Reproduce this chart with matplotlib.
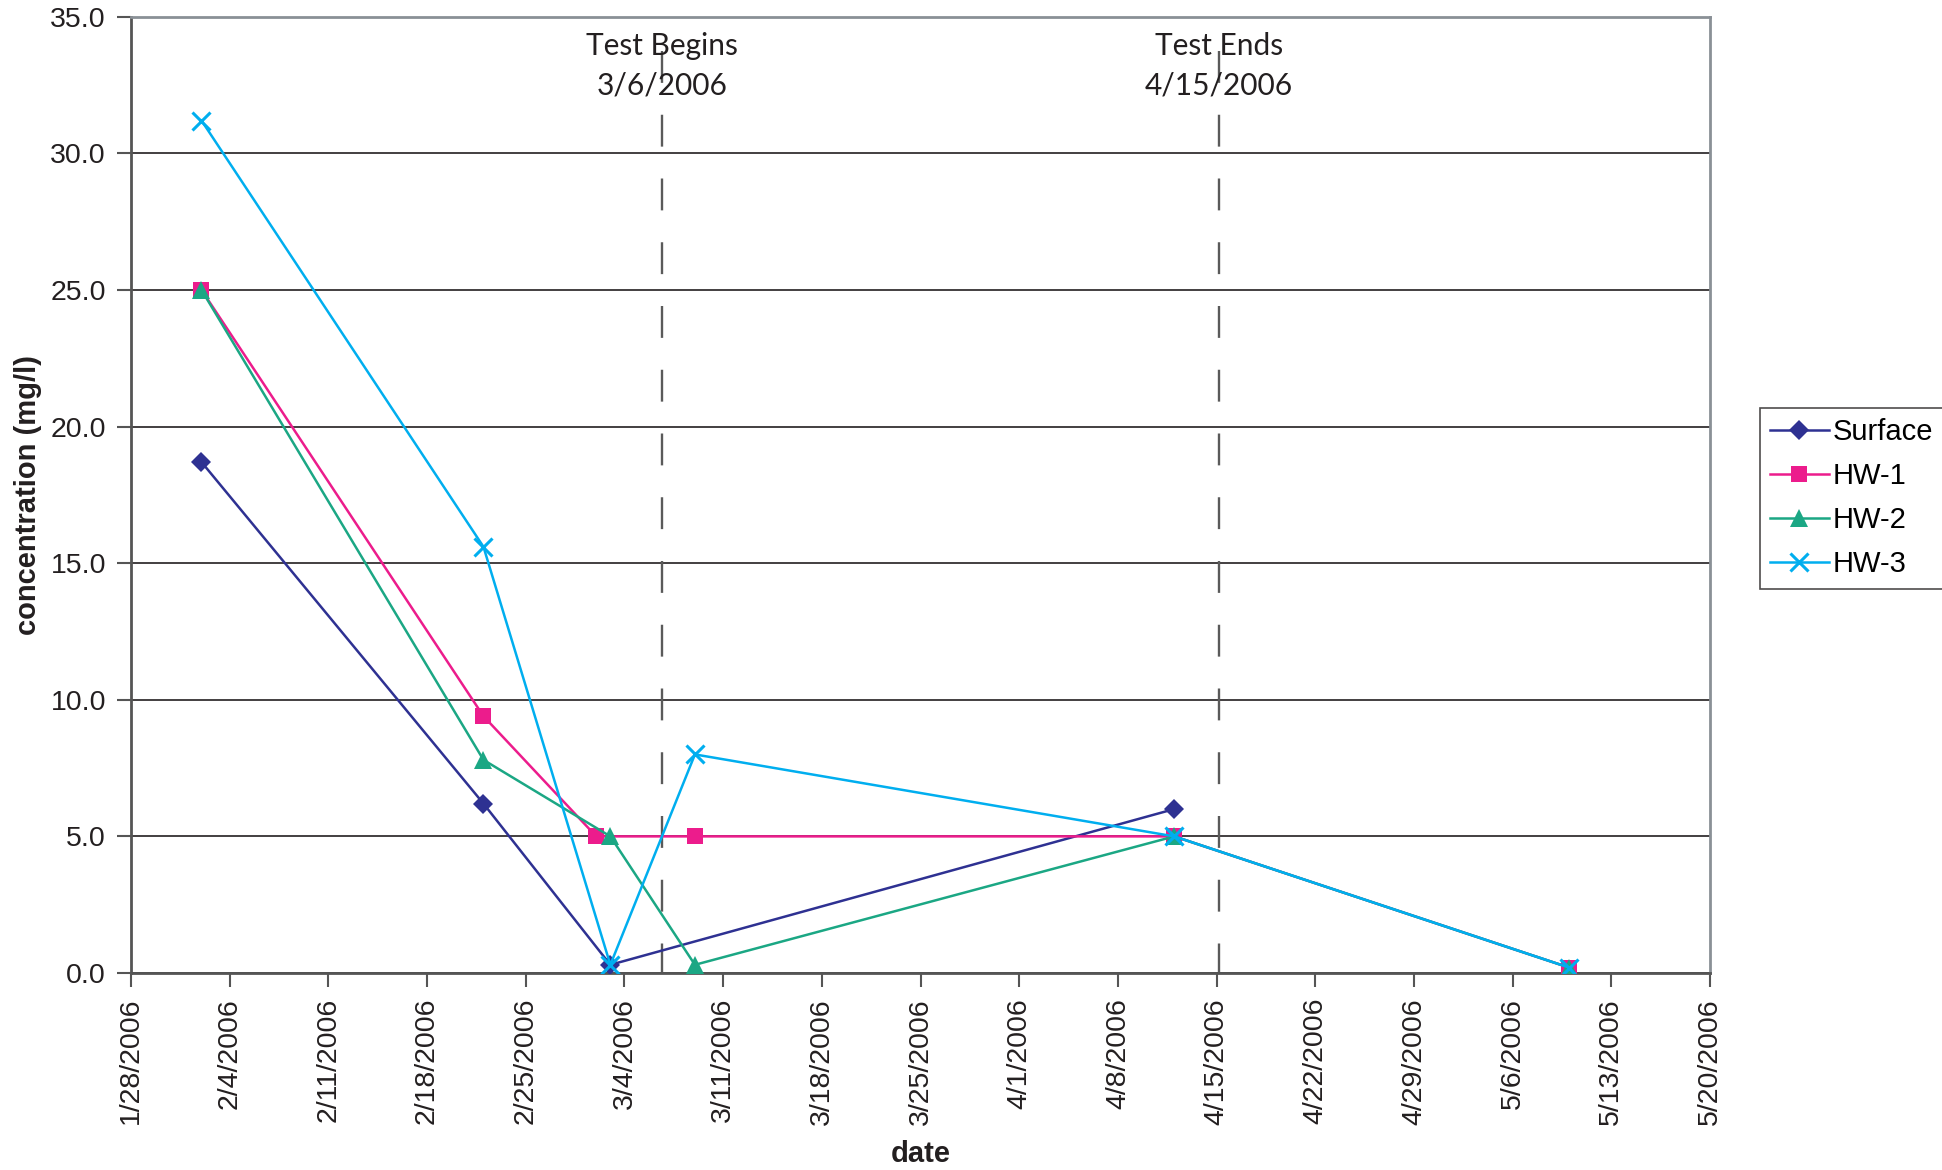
import matplotlib
matplotlib.use("Agg")
import matplotlib.pyplot as plt
from datetime import datetime, timedelta

plt.rcParams['font.family'] = ['Liberation Sans', 'DejaVu Sans']

# sampling dates and concentrations (mg/l)
surface_dates = ["2006-02-02", "2006-02-22", "2006-03-03", "2006-04-12"]
surface_vals = [18.7, 6.2, 0.3, 6.0]

hw1_dates = ["2006-02-02", "2006-02-22", "2006-03-02", "2006-03-09", "2006-04-12", "2006-05-10"]
hw1_vals = [25.0, 9.4, 5.0, 5.0, 5.0, 0.2]

hw2_dates = ["2006-02-02", "2006-02-22", "2006-03-03", "2006-03-09", "2006-04-12", "2006-05-10"]
hw2_vals = [25.0, 7.8, 5.0, 0.3, 5.0, 0.2]

hw3_dates = ["2006-02-02", "2006-02-22", "2006-03-03", "2006-03-09", "2006-04-12", "2006-05-10"]
hw3_vals = [31.2, 15.6, 0.3, 8.0, 5.0, 0.2]

# start / end of the test period
test_events = ["2006-03-06 16:00", "2006-04-15 04:00"]
test_titles = ["Test Begins", "Test Ends"]
test_dates = ["3/6/2006", "4/15/2006"]

y_ticks = [0, 5, 10, 15, 20, 25, 30, 35]


def to_dt(seq):
    return [datetime.strptime(s, "%Y-%m-%d") for s in seq]


fig = plt.figure(figsize=(19.42, 11.70), dpi=100)
ax = fig.add_axes([131 / 1942, 1 - 973 / 1170, (1710 - 131) / 1942, (973 - 16.7) / 1170])

series = [
    ("Surface", surface_dates, surface_vals, "#2E3192", "D", 10.5),
    ("HW-1", hw1_dates, hw1_vals, "#EC1C8C", "s", 11.5),
    ("HW-2", hw2_dates, hw2_vals, "#1BA784", "^", 13),
    ("HW-3", hw3_dates, hw3_vals, "#00AEEF", "x", 13),
]
for name, d, v, c, m, ms in series:
    kw = dict(markeredgewidth=2.2) if m == "x" else dict(markeredgewidth=0)
    ax.plot(to_dt(d), v, color=c, marker=m, markersize=ms, linewidth=1.8,
            label=name, zorder=3, **kw)

start = datetime(2006, 1, 28)
end = datetime(2006, 5, 20)
ax.set_xlim(start, end)
ax.set_ylim(0, 35)

xt = [start + timedelta(days=7 * i) for i in range(17)]
ax.set_xticks(xt)
ax.set_xticklabels([f"{t.month}/{t.day}/{t.year}" for t in xt], rotation=90)
ax.set_yticks(y_ticks)
ax.set_yticklabels([f"{v:.1f}" for v in y_ticks])

ax.tick_params(axis='both', labelsize=20.5, length=10, width=1.5, color='#555555',
               direction='out', pad=8, labelcolor='#231F20')
ax.grid(axis='y', color='#231F20', linewidth=1.2, zorder=1)
ax.set_axisbelow(True)
for side in ['left', 'bottom']:
    ax.spines[side].set_color('#555555')
    ax.spines[side].set_linewidth(2.0)
for side in ['top', 'right']:
    ax.spines[side].set_color('#8A9096')
    ax.spines[side].set_linewidth(2.0)

# test period markers
for ev, title, date_txt in zip(test_events, test_titles, test_dates):
    x = datetime.strptime(ev, "%Y-%m-%d %H:%M")
    ax.plot([x, x], [33.75, 0], color='#5A5A5A', linewidth=1.7,
            dashes=(13.5, 13.5), zorder=2)
    ax.text(x, 33.60, title, ha='center', va='baseline', fontsize=21.5,
            family='Lato', color='#231F20')
    ax.text(x, 32.17, date_txt, ha='center', va='baseline', fontsize=21.5,
            family='Lato', color='#231F20')

ax.set_ylabel("concentration (mg/l)", fontsize=21, fontweight='bold',
              color='#231F20', labelpad=6)
ax.set_xlabel("date", fontsize=21, fontweight='bold', color='#231F20', labelpad=11)

leg = fig.legend(loc='upper left', bbox_to_anchor=(1760 / 1942, 1 - 408 / 1170),
                 fontsize=21, frameon=True, fancybox=False, edgecolor='#231F20',
                 handlelength=2.0, handletextpad=0.15, labelspacing=0.55,
                 borderpad=0.35, borderaxespad=0)
leg.get_frame().set_linewidth(1.2)

fig.savefig("out.png", dpi=100)
